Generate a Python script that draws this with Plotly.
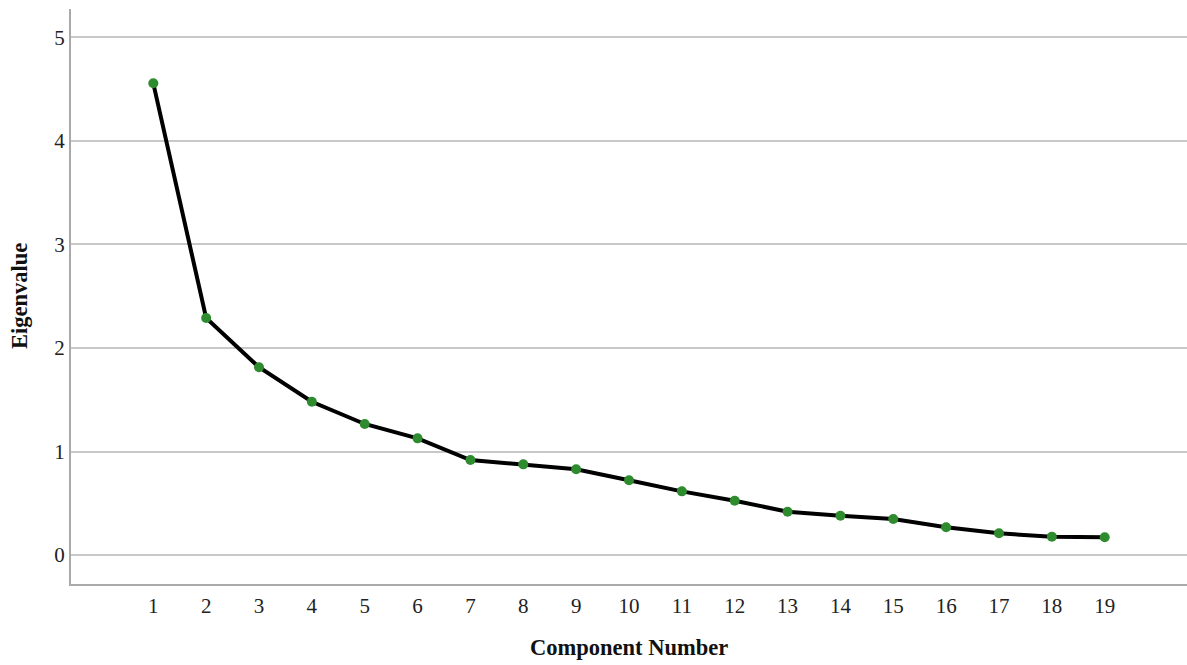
import plotly.graph_objects as go

components = list(range(1, 20))
eigenvalues = [4.557, 2.29, 1.814, 1.481, 1.266, 1.127, 0.918, 0.876, 0.828, 0.722,
               0.615, 0.525, 0.418, 0.379, 0.348, 0.268, 0.21, 0.177, 0.171]
y_ticks = [0, 1, 2, 3, 4, 5]

fig = go.Figure()
fig.add_trace(go.Scatter(
    x=components, y=eigenvalues, mode="lines+markers",
    line=dict(color="black", width=4),
    marker=dict(color="#2e8b2e", size=10),
    showlegend=False, hoverinfo="x+y"))

font = "Liberation Serif, Times New Roman, serif"
fig.update_layout(
    width=1187, height=665,
    margin=dict(l=71, r=0, t=9, b=81),
    paper_bgcolor="white", plot_bgcolor="white",
    font=dict(family=font, size=21, color="#222"),
    xaxis=dict(range=[-0.557, 20.557], tickmode="array", tickvals=components,
               ticktext=[str(c) for c in components],
               showgrid=False, zeroline=False, showline=True, linecolor="#aaaaaa",
               linewidth=2, ticks="", ticklabelstandoff=2),
    yaxis=dict(range=[-0.28, 5.275], tickmode="array", tickvals=y_ticks,
               showgrid=True, gridcolor="#c8c8c8", gridwidth=1.5,
               zeroline=False, showline=True, linecolor="#aaaaaa", linewidth=2,
               ticks="", ticklabelstandoff=0),
    annotations=[
        dict(text="<b>Component Number</b>", xref="paper", yref="paper",
             x=0.5, y=-0.1113, showarrow=False, font=dict(size=22.5, family=font, color="#111"),
             xanchor="center", yanchor="middle"),
        dict(text="<b>Eigenvalue</b>", xref="paper", yref="paper",
             x=-0.0457, y=0.5009, showarrow=False, textangle=-90,
             font=dict(size=22.5, family=font, color="#111"),
             xanchor="center", yanchor="middle"),
    ],
)
fig.write_html("out.html")
